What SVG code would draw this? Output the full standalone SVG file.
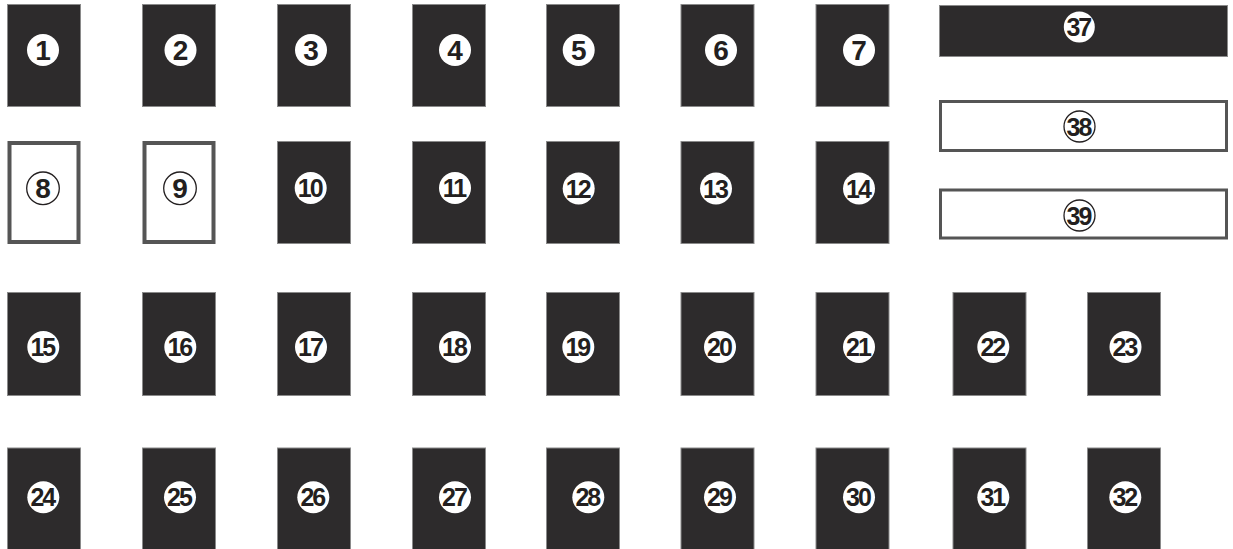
<svg xmlns="http://www.w3.org/2000/svg" width="1233" height="549" viewBox="0 0 1233 549">
<style>
.d{fill:#2d2b2c;stroke:#8a8a8a;stroke-width:1}
.w{fill:#ffffff;stroke:#555555;stroke-width:4}
.wl{fill:#ffffff;stroke:#555555;stroke-width:3}
.c{fill:#ffffff}
.co{fill:#ffffff;stroke:#231f20;stroke-width:1.3}
.t1{font-family:"Liberation Sans",Arial,sans-serif;font-weight:bold;font-size:28px;fill:#231f20;text-anchor:middle}
.t2{font-family:"Liberation Sans",Arial,sans-serif;font-weight:bold;font-size:25px;fill:#231f20;text-anchor:middle;letter-spacing:-2px}
</style>
<g id="n1"><rect class="d" x="7.5" y="4.5" width="73" height="102"/><circle class="c" cx="43" cy="50" r="16"/><text class="t1" x="43" y="60">1</text></g>
<g id="n2"><rect class="d" x="142.5" y="4.5" width="73" height="102"/><circle class="c" cx="180.5" cy="50" r="16"/><text class="t1" x="180.5" y="60">2</text></g>
<g id="n3"><rect class="d" x="277.5" y="4.5" width="73" height="102"/><circle class="c" cx="311" cy="50" r="16"/><text class="t1" x="311" y="60">3</text></g>
<g id="n4"><rect class="d" x="412.5" y="4.5" width="73" height="102"/><circle class="c" cx="455" cy="50" r="16"/><text class="t1" x="455" y="60">4</text></g>
<g id="n5"><rect class="d" x="546.5" y="4.5" width="73" height="102"/><circle class="c" cx="578.7" cy="50" r="16"/><text class="t1" x="578.7" y="60">5</text></g>
<g id="n6"><rect class="d" x="681" y="4.5" width="73" height="102"/><circle class="c" cx="721" cy="50" r="16"/><text class="t1" x="721" y="60">6</text></g>
<g id="n7"><rect class="d" x="816" y="4.5" width="73" height="102"/><circle class="c" cx="859" cy="50" r="16"/><text class="t1" x="859" y="60">7</text></g>

<g id="n8"><rect class="w" x="9.5" y="143" width="69" height="99"/><circle class="co" cx="43" cy="188.3" r="16.3"/><text class="t1" x="43" y="198.3">8</text></g>
<g id="n9"><rect class="w" x="144.5" y="143" width="69" height="99"/><circle class="co" cx="180" cy="188.3" r="16.3"/><text class="t1" x="180" y="198.3">9</text></g>
<g id="n10"><rect class="d" x="277.5" y="141.5" width="73" height="102"/><circle class="c" cx="310.7" cy="188" r="16"/><text class="t2" x="309.7" y="197">10</text></g>
<g id="n11"><rect class="d" x="412.5" y="141.5" width="73" height="102"/><circle class="c" cx="455" cy="188" r="16"/><text class="t2" x="454" y="197">11</text></g>
<g id="n12"><rect class="d" x="546.5" y="141.5" width="73" height="102"/><circle class="c" cx="578.7" cy="188.5" r="16"/><text class="t2" x="577.7" y="197.5">12</text></g>
<g id="n13"><rect class="d" x="681" y="141.5" width="73" height="102"/><circle class="c" cx="716" cy="188.5" r="16"/><text class="t2" x="715" y="197.5">13</text></g>
<g id="n14"><rect class="d" x="816" y="141.5" width="73" height="102"/><circle class="c" cx="859" cy="188.5" r="16"/><text class="t2" x="858" y="197.5">14</text></g>

<g id="n15"><rect class="d" x="7.5" y="292.5" width="73" height="103"/><circle class="c" cx="43.3" cy="347" r="16"/><text class="t2" x="42.3" y="356">15</text></g>
<g id="n16"><rect class="d" x="142.5" y="292.5" width="73" height="103"/><circle class="c" cx="180.3" cy="347" r="16"/><text class="t2" x="179.3" y="356">16</text></g>
<g id="n17"><rect class="d" x="277.5" y="292.5" width="73" height="103"/><circle class="c" cx="311" cy="347" r="16"/><text class="t2" x="310" y="356">17</text></g>
<g id="n18"><rect class="d" x="412.5" y="292.5" width="73" height="103"/><circle class="c" cx="455" cy="347" r="16"/><text class="t2" x="454" y="356">18</text></g>
<g id="n19"><rect class="d" x="546.5" y="292.5" width="73" height="103"/><circle class="c" cx="578.3" cy="347" r="16"/><text class="t2" x="577.3" y="356">19</text></g>
<g id="n20"><rect class="d" x="681" y="292.5" width="73" height="103"/><circle class="c" cx="720" cy="347" r="16"/><text class="t2" x="719" y="356">20</text></g>
<g id="n21"><rect class="d" x="816" y="292.5" width="73" height="103"/><circle class="c" cx="859" cy="347" r="16"/><text class="t2" x="858" y="356">21</text></g>
<g id="n22"><rect class="d" x="953" y="292.5" width="73" height="103"/><circle class="c" cx="993.3" cy="347" r="16"/><text class="t2" x="992.3" y="356">22</text></g>
<g id="n23"><rect class="d" x="1087.5" y="292.5" width="73" height="103"/><circle class="c" cx="1125.5" cy="347" r="16"/><text class="t2" x="1124.5" y="356">23</text></g>

<g id="n24"><rect class="d" x="7.5" y="448" width="73" height="104"/><circle class="c" cx="43.3" cy="497.3" r="16"/><text class="t2" x="42.3" y="506.3">24</text></g>
<g id="n25"><rect class="d" x="142.5" y="448" width="73" height="104"/><circle class="c" cx="180" cy="497.3" r="16"/><text class="t2" x="179" y="506.3">25</text></g>
<g id="n26"><rect class="d" x="277.5" y="448" width="73" height="104"/><circle class="c" cx="313.3" cy="497.3" r="16"/><text class="t2" x="312.3" y="506.3">26</text></g>
<g id="n27"><rect class="d" x="412.5" y="448" width="73" height="104"/><circle class="c" cx="455" cy="497.3" r="16"/><text class="t2" x="454" y="506.3">27</text></g>
<g id="n28"><rect class="d" x="546.5" y="448" width="73" height="104"/><circle class="c" cx="588.3" cy="497.3" r="16"/><text class="t2" x="587.3" y="506.3">28</text></g>
<g id="n29"><rect class="d" x="681" y="448" width="73" height="104"/><circle class="c" cx="720" cy="497.3" r="16"/><text class="t2" x="719" y="506.3">29</text></g>
<g id="n30"><rect class="d" x="816" y="448" width="73" height="104"/><circle class="c" cx="859" cy="497.3" r="16"/><text class="t2" x="858" y="506.3">30</text></g>
<g id="n31"><rect class="d" x="953" y="448" width="73" height="104"/><circle class="c" cx="993.3" cy="497.3" r="16"/><text class="t2" x="992.3" y="506.3">31</text></g>
<g id="n32"><rect class="d" x="1087.5" y="448" width="73" height="104"/><circle class="c" cx="1125.3" cy="497.3" r="16"/><text class="t2" x="1124.3" y="506.3">32</text></g>

<g id="n37"><rect class="d" x="939.5" y="5.5" width="288" height="51"/><circle class="c" cx="1079.3" cy="27" r="15.5"/><text class="t2" x="1078.3" y="36">37</text></g>
<g id="n38"><rect class="wl" x="940.5" y="101.5" width="286" height="49"/><circle class="co" cx="1079.5" cy="126.5" r="15.5"/><text class="t2" x="1078.5" y="135.5">38</text></g>
<g id="n39"><rect class="wl" x="940.5" y="190" width="286" height="48"/><circle class="co" cx="1079.5" cy="215.5" r="15.5"/><text class="t2" x="1078.5" y="224.5">39</text></g>
<g id="connectors"></g>
</svg>
